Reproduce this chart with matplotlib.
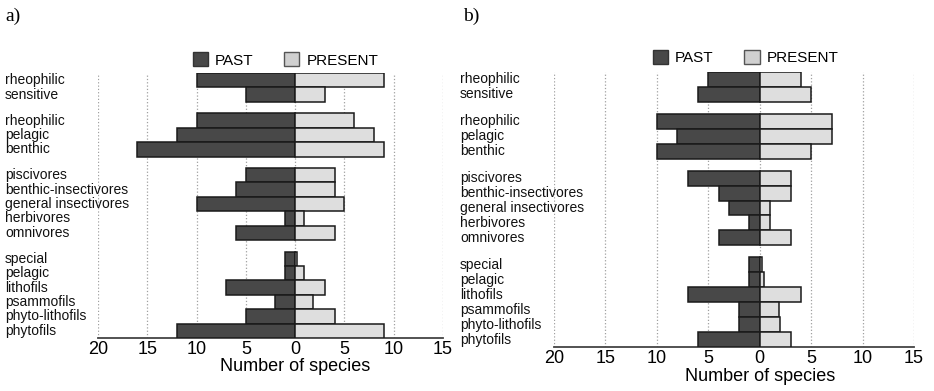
import numpy as np
import matplotlib.pyplot as plt
from matplotlib.patches import Patch
from matplotlib.transforms import blended_transform_factory

plt.rcParams['font.family'] = ['Liberation Sans', 'DejaVu Sans']

# guild labels, top to bottom, in four groups
group_sizes = [2, 3, 5, 6]
guilds = ['rheophilic', 'sensitive',
          'rheophilic', 'pelagic', 'benthic',
          'piscivores', 'benthic-insectivores', 'general insectivores',
          'herbivores', 'omnivores',
          'special', 'pelagic', 'lithofils', 'psammofils', 'phyto-lithofils',
          'phytofils']

# number of species per guild
past_a = [10, 5, 10, 12, 16, 5, 6, 10, 1, 6, 1, 1, 7, 2, 5, 12]
present_a = [9, 3, 6, 8, 9, 4, 4, 5, 0.9, 4, 0.2, 0.9, 3, 1.8, 4, 9]
past_b = [5, 6, 10, 8, 10, 7, 4, 3, 1, 4, 1, 1, 7, 2, 2, 6]
present_b = [4, 5, 7, 7, 5, 3, 3, 1, 1, 3, 0.2, 0.4, 4, 1.9, 2, 3]

x_ticks = [-20, -15, -10, -5, 0, 5, 10, 15]

PAST_COL = '#484848'
PRESENT_COL = '#dedede'
EDGE_COL = '#1a1a1a'
GAP = 0.8


def row_positions(sizes, gap):
    ys = []
    y = 0.0
    for size in sizes:
        for k in range(size):
            ys.append(y + 0.5)
            y += 1
        y += gap
    return np.array(ys), y - gap


def draw_panel(ax, past, present, label_x, legend_y, label_y):
    ys, total = row_positions(group_sizes, GAP)
    ax.barh(ys, -np.array(past), height=1.0, color=PAST_COL,
            edgecolor=EDGE_COL, linewidth=1.1, zorder=3)
    ax.barh(ys, present, height=1.0, color=PRESENT_COL,
            edgecolor=EDGE_COL, linewidth=1.1, zorder=3)

    ax.set_ylim(total, 0)
    ax.set_xlim(-20, 15)
    ax.set_yticks([])
    ax.set_xticks(x_ticks)
    ax.set_xticklabels([str(abs(t)) for t in x_ticks])
    ax.tick_params(axis='x', length=0, pad=2, labelsize=13)
    ax.grid(axis='x', linestyle=':', color='#a0a0a0', linewidth=0.9)
    ax.set_axisbelow(True)

    for side in ['left', 'right', 'top']:
        ax.spines[side].set_visible(False)
    ax.spines['bottom'].set_color('#444444')
    ax.spines['bottom'].set_linewidth(1.3)

    ax.set_xlabel('Number of species', fontsize=13)
    ax.xaxis.set_label_coords(20 / 35, label_y)

    trans = blended_transform_factory(ax.figure.transFigure, ax.transData)
    for y, name in zip(ys, guilds):
        ax.text(label_x, y, name, transform=trans, ha='left', va='center',
                fontsize=10, color='#111111')

    handles = [Patch(facecolor=PAST_COL, edgecolor='#333333', label='PAST'),
               Patch(facecolor='#d0d0d0', edgecolor='#555555', label='PRESENT')]
    ax.legend(handles=handles, ncol=2, loc='center left',
              bbox_to_anchor=(0.275, legend_y), frameon=False, fontsize=11,
              handlelength=1.0, handleheight=1.0, handletextpad=0.45,
              columnspacing=2.0, borderpad=0, borderaxespad=0)


fig = plt.figure(figsize=(9.34, 3.91), dpi=100)
ax_a = fig.add_axes([98 / 934, 1 - 338 / 391, 345 / 934, 265 / 391])
ax_b = fig.add_axes([554 / 934, 1 - 347 / 391, 360 / 934, 275 / 391])

draw_panel(ax_a, past_a, present_a, 5 / 934, 1.049, -0.075)
draw_panel(ax_b, past_b, present_b, 460 / 934, 1.053, -0.076)

fig.text(5 / 934, 1 - 16 / 391, 'a)', family='Liberation Serif',
         fontsize=14, va='center')
fig.text(463 / 934, 1 - 16 / 391, 'b)', family='Liberation Serif',
         fontsize=14, va='center')

fig.savefig('out.png', dpi=100)
